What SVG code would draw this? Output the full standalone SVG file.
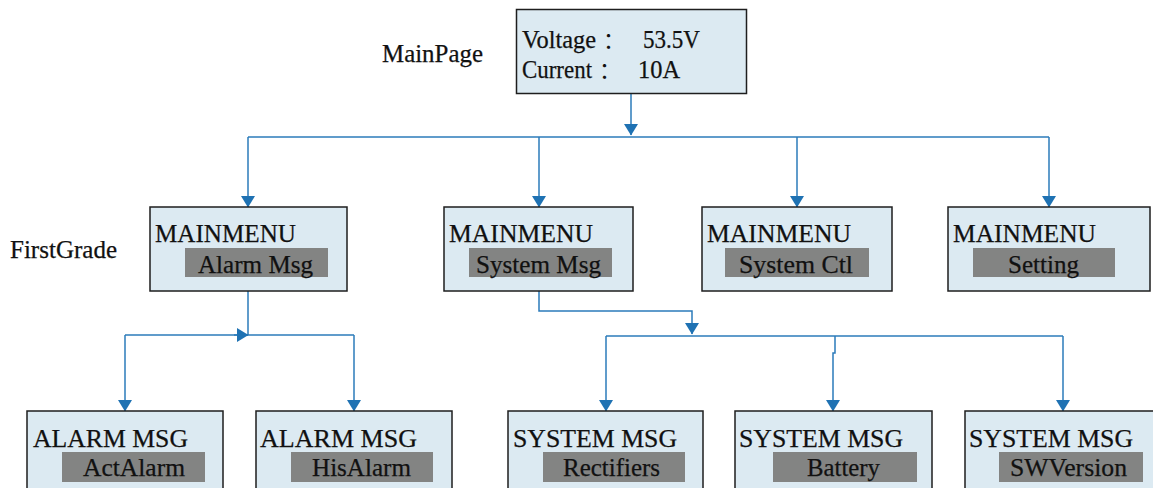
<svg xmlns="http://www.w3.org/2000/svg" width="1153" height="488" viewBox="0 0 1153 488">
<style>
.box{fill:#dceaf2;stroke:#1e1e1e;stroke-width:1.5}
.bar{fill:#838483}
.t{font-family:"Liberation Serif","Times New Roman",Times,serif;font-size:25px;fill:#111111;stroke:#111111;stroke-width:0.25}
.k{font-family:"Noto Sans CJK SC","Liberation Serif",serif;font-size:22px;fill:#111111}
.c{fill:none;stroke:#2b7bba;stroke-width:1.5}
</style>
<defs>
<marker id="ah" markerUnits="userSpaceOnUse" markerWidth="12" markerHeight="15" refX="11" refY="7" orient="auto">
<path d="M0,0 L11.5,7 L0,14 z" fill="#1f72b3"/>
</marker>
</defs>
<rect width="1153" height="488" fill="#ffffff"/>
<text class="t" x="382" y="62" textLength="101" lengthAdjust="spacingAndGlyphs">MainPage</text>
<text class="t" x="10" y="258" textLength="107" lengthAdjust="spacingAndGlyphs">FirstGrade</text>

<g id="connectors">
<path class="c" d="M631,93 V135" marker-end="url(#ah)"/>
<path class="c" d="M248,137 H1049"/>
<path class="c" d="M248,137 V207" marker-end="url(#ah)"/>
<path class="c" d="M539,137 V207" marker-end="url(#ah)"/>
<path class="c" d="M797,137 V207" marker-end="url(#ah)"/>
<path class="c" d="M1049,137 V207" marker-end="url(#ah)"/>
<path class="c" d="M248,291 V335"/>
<path class="c" d="M125,335 H354"/>
<path class="c" d="M234,335 H248" marker-end="url(#ah)"/>
<path class="c" d="M125,335 V411" marker-end="url(#ah)"/>
<path class="c" d="M354,335 V411" marker-end="url(#ah)"/>
<path class="c" d="M539,291 V311 H692 V334" marker-end="url(#ah)"/>
<path class="c" d="M606,336 H1063"/>
<path class="c" d="M606,336 V411" marker-end="url(#ah)"/>
<path class="c" d="M835,336 V353 H833 V411" marker-end="url(#ah)"/>
<path class="c" d="M1063,336 V411" marker-end="url(#ah)"/>
</g>

<g id="mainpage">
<rect class="box" x="516.5" y="9.5" width="230" height="84"/>
<text class="t" x="522" y="48" textLength="74" lengthAdjust="spacingAndGlyphs">Voltage</text>
<text class="k" x="603" y="48">：</text>
<text class="t" x="643" y="48" textLength="57" lengthAdjust="spacingAndGlyphs">53.5V</text>
<text class="t" x="522" y="78" textLength="70" lengthAdjust="spacingAndGlyphs">Current</text>
<text class="k" x="599" y="78">：</text>
<text class="t" x="638" y="78" textLength="42" lengthAdjust="spacingAndGlyphs">10A</text>
</g>

<g id="alarm-msg">
<rect class="box" x="150" y="207" width="197" height="84"/>
<text class="t" x="155" y="242" textLength="141" lengthAdjust="spacingAndGlyphs">MAINMENU</text>
<rect class="bar" x="185" y="248" width="143" height="29"/>
<text class="t" x="198" y="273" textLength="115" lengthAdjust="spacingAndGlyphs">Alarm Msg</text>
</g>
<g id="system-msg">
<rect class="box" x="444" y="207" width="189" height="84"/>
<text class="t" x="449" y="242" textLength="144" lengthAdjust="spacingAndGlyphs">MAINMENU</text>
<rect class="bar" x="469" y="248" width="143" height="29"/>
<text class="t" x="476" y="273" textLength="125" lengthAdjust="spacingAndGlyphs">System Msg</text>
</g>
<g id="system-ctl">
<rect class="box" x="702" y="207" width="190" height="84"/>
<text class="t" x="707" y="242" textLength="144" lengthAdjust="spacingAndGlyphs">MAINMENU</text>
<rect class="bar" x="725" y="248" width="144" height="29"/>
<text class="t" x="739" y="273" textLength="114" lengthAdjust="spacingAndGlyphs">System Ctl</text>
</g>
<g id="setting">
<rect class="box" x="948" y="207" width="202" height="84"/>
<text class="t" x="953" y="242" textLength="143" lengthAdjust="spacingAndGlyphs">MAINMENU</text>
<rect class="bar" x="973" y="248" width="142" height="29"/>
<text class="t" x="1008" y="273" textLength="71" lengthAdjust="spacingAndGlyphs">Setting</text>
</g>

<g id="actalarm">
<rect class="box" x="27" y="411" width="196" height="90"/>
<text class="t" x="33" y="447" textLength="155" lengthAdjust="spacingAndGlyphs">ALARM MSG</text>
<rect class="bar" x="62" y="452" width="143" height="30"/>
<text class="t" x="83" y="476" textLength="102" lengthAdjust="spacingAndGlyphs">ActAlarm</text>
</g>
<g id="hisalarm">
<rect class="box" x="256" y="411" width="196" height="90"/>
<text class="t" x="260" y="447" textLength="157" lengthAdjust="spacingAndGlyphs">ALARM MSG</text>
<rect class="bar" x="291" y="452" width="142" height="30"/>
<text class="t" x="312" y="476" textLength="99" lengthAdjust="spacingAndGlyphs">HisAlarm</text>
</g>
<g id="rectifiers">
<rect class="box" x="508" y="411" width="195" height="90"/>
<text class="t" x="513" y="447" textLength="164" lengthAdjust="spacingAndGlyphs">SYSTEM MSG</text>
<rect class="bar" x="543" y="452" width="142" height="30"/>
<text class="t" x="563" y="476" textLength="97" lengthAdjust="spacingAndGlyphs">Rectifiers</text>
</g>
<g id="battery">
<rect class="box" x="735" y="411" width="197" height="90"/>
<text class="t" x="739" y="447" textLength="164" lengthAdjust="spacingAndGlyphs">SYSTEM MSG</text>
<rect class="bar" x="773" y="452" width="144" height="30"/>
<text class="t" x="807" y="476" textLength="73" lengthAdjust="spacingAndGlyphs">Battery</text>
</g>
<g id="swversion">
<rect class="box" x="965" y="411" width="200" height="90"/>
<text class="t" x="969" y="447" textLength="164" lengthAdjust="spacingAndGlyphs">SYSTEM MSG</text>
<rect class="bar" x="999" y="452" width="144" height="30"/>
<text class="t" x="1010" y="476" textLength="117" lengthAdjust="spacingAndGlyphs">SWVersion</text>
</g>
</svg>
